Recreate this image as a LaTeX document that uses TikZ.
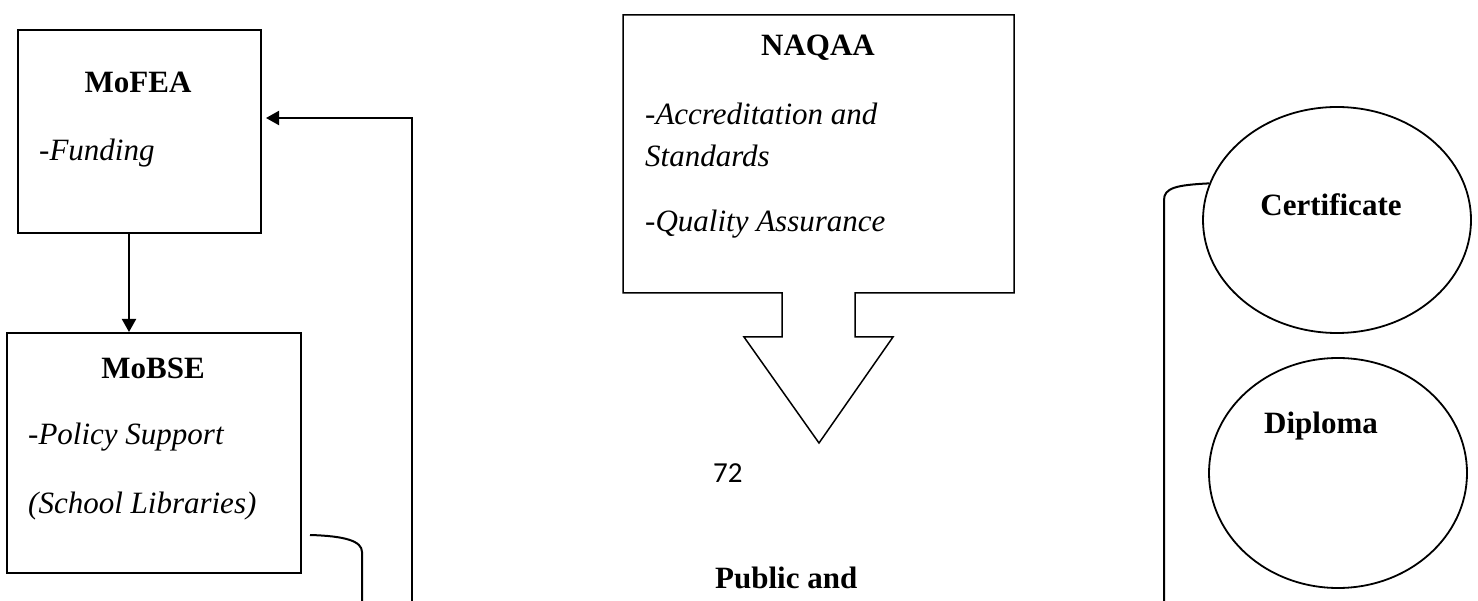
\documentclass[tikz,border=0pt]{standalone}
\usepackage{fontspec}
\setmainfont{Liberation Serif}
\newfontfamily\pagefont{Carlito}
\usetikzlibrary{shapes.geometric,arrows.meta}

\begin{document}
\begin{tikzpicture}[x=1pt,y=-1pt,
    box/.style={draw,line width=2pt,inner sep=0pt},
    oval/.style={draw,ellipse,line width=1.8pt,inner sep=0pt},
    head/.style={font=\fontsize{31}{37}\selectfont\bfseries,inner sep=0pt},
    item/.style={font=\fontsize{31}{37}\selectfont\itshape,anchor=west,inner sep=0pt},
    link/.style={line width=2pt,-{Triangle[length=13pt,width=14pt]}}]
  \useasboundingbox (0,0) rectangle (1478,601);

  % Coordinates
  \coordinate (fx) at (129,0);
  \coordinate (fbot) at (412,601);
  \coordinate (ftop) at (412,118);
  \coordinate (lstart) at (310,535);
  \coordinate (lbend) at (362,552);
  \coordinate (lbot) at (362,601);
  \coordinate (rbend) at (1164,200);
  \coordinate (rbot) at (1164,601);
  \coordinate (A) at (623,15);
  \coordinate (B) at (1014,15);
  \coordinate (C) at (1014,293);
  \coordinate (D) at (855,293);
  \coordinate (E) at (855,337);
  \coordinate (F) at (893,337);
  \coordinate (G) at (819,443);
  \coordinate (H) at (744,337);
  \coordinate (I) at (782,337);
  \coordinate (J) at (782,293);
  \coordinate (K) at (623,293);

  % Boxes and ovals
  \node[box,minimum width=243pt,minimum height=203pt] (mofea) at (139.5,131.5) {};
  \node[box,minimum width=294pt,minimum height=240pt] (mobse) at (154,453) {};
  \node[oval,minimum width=268pt,minimum height=226pt] (cert) at (1337,220) {};
  \node[oval,minimum width=258pt,minimum height=230pt] (dipl) at (1338,473) {};

  % Texts
  \node[head] (mofeaname) at (138,82) {MoFEA};
  \node[item] (funding) at (39,153) {-Funding};
  \node[head] (mobsename) at (153,368) {MoBSE};
  \node[item] (policy) at (28,437) {-Policy Support};
  \node[item] (libraries) at (28,506) {(School Libraries)};
  \node[head] (naqaaname) at (818,48) {NAQAA};
  \node[item] (accred) at (645,114) {-Accreditation and};
  \node[item] (standards) at (645,156) {Standards};
  \node[item] (quality) at (645,224) {-Quality Assurance};
  \node[head] (certname) at (1331,205) {Certificate};
  \node[head] (diplname) at (1321,426) {Diploma};
  \node[font=\fontsize{29}{34}\pagefont,anchor=west,inner sep=0pt] (pagenum) at (713,473) {72};
  \node[head,anchor=west] (public) at (715,578) {Public and};

  % Drawing
  \draw[line width=1.5pt,line join=miter] (A) -- (B) -- (C) -- (D) -- (E) -- (F) -- (G)
    -- (H) -- (I) -- (J) -- (K) -- cycle;
  \draw[link] (mofea.south -| fx) -- (mobse.north -| fx);
  \draw[link,shorten >=4pt] (fbot) -- (ftop) -- (mofea.east |- ftop);
  \draw[line width=2pt] (lstart) .. controls (345,536) and (362,541) .. (lbend) -- (lbot);
  \draw[line width=2pt] (cert.164) .. controls (1176,185) and (1164,188) .. (rbend) -- (rbot);
\end{tikzpicture}
\end{document}
